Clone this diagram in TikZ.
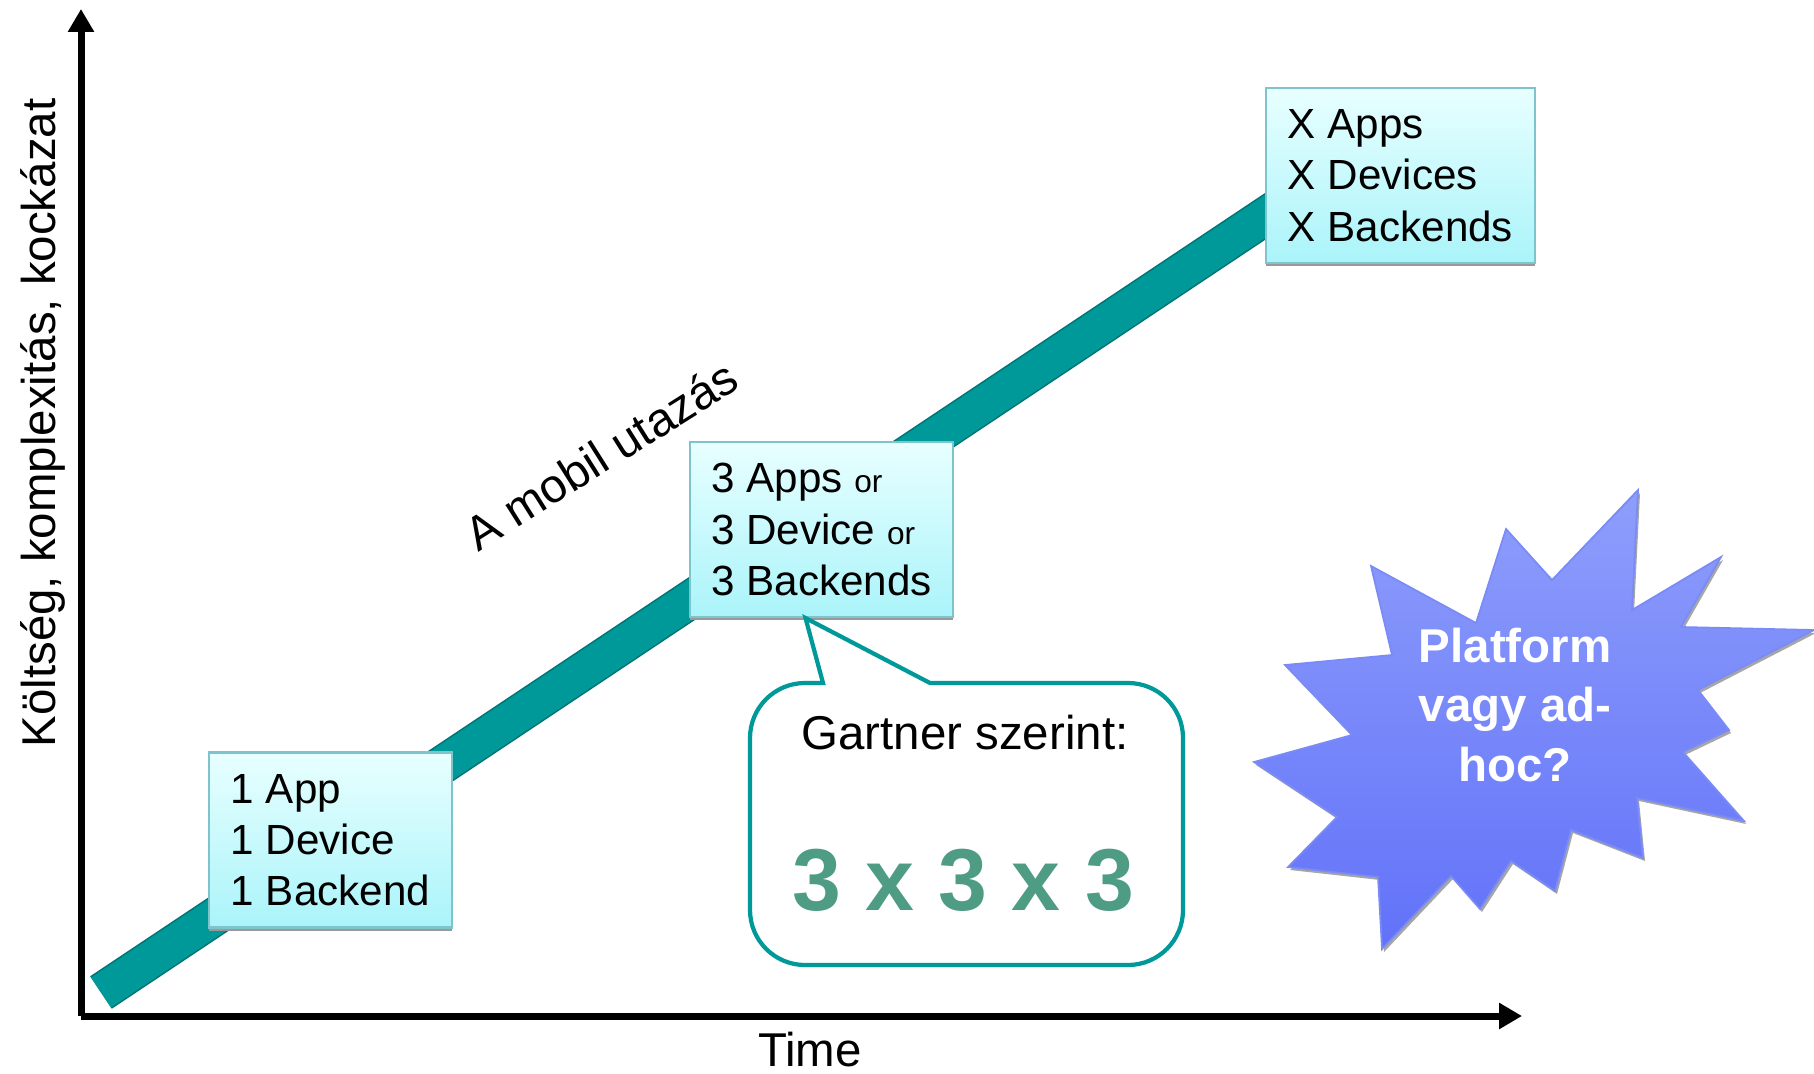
\documentclass[tikz,border=0pt]{standalone}
\usepackage{fontspec}
\setmainfont{Liberation Sans}
\usepackage{tikz}
\usetikzlibrary{positioning,arrows.meta,shadows}

\definecolor{bandteal}{HTML}{009999}
\definecolor{banddark}{HTML}{007373}
\definecolor{boxtop}{HTML}{E8FFFF}
\definecolor{boxbot}{HTML}{AAF4FA}
\definecolor{boxedge}{HTML}{7EC4CC}
\definecolor{startop}{HTML}{8E9EFB}
\definecolor{starbot}{HTML}{6272F9}
\definecolor{starline}{HTML}{7A8BF6}
\definecolor{formulagreen}{HTML}{4E9C84}

\begin{document}
\begin{tikzpicture}[
  stage/.style={rectangle, draw=boxedge, line width=0.6pt, top color=boxtop, bottom color=boxbot, align=left, minimum height=1.75cm, font=\fontsize{12}{14.6}\selectfont, drop shadow={shadow xshift=0cm, shadow yshift=-0.03cm, fill=gray!80, opacity=1}},
  axis/.style={line width=0.07cm, -{Triangle[length=0.23cm,width=0.25cm]}},
  axistext/.style={font=\fontsize{13.5}{16}\selectfont, inner sep=0pt},
  band/.style={draw=banddark, line width=0.015cm, double=bandteal, double distance=0.36cm},
  bubble/.style={draw=bandteal, line width=1.2pt, fill=white},
  burst/.style={draw=starline, line width=0.5pt, top color=startop, bottom color=starbot, drop shadow={shadow xshift=0.02cm, shadow yshift=-0.03cm, fill=gray!70, opacity=1}},
  bursttext/.style={font=\bfseries\fontsize{13.5}{17}\selectfont, text=white, align=center}
]
\useasboundingbox (0,0) rectangle (18.14,10.73);

% Band
\coordinate (bandstart) at (1.01,0.805);
\coordinate (bandend) at (13.4,9.065);
\draw[band] (bandstart) -- (bandend);

% Axes
\coordinate (origin) at (0.81,0.57);
\coordinate (ytop) at (0.81,10.64);
\coordinate (xend) at (15.22,0.57);
\draw[axis] (origin) -- (ytop);
\draw[axis] (origin) -- (xend);
\node[axistext, rotate=90, anchor=base west] (ylabel) at (0.55,3.25) {Költség, komplexitás, kockázat};
\node[axistext, anchor=base] (xlabel) at (8.10,0.07) {Time};
\node[axistext, rotate=32.2, anchor=base west] (journey) at (4.78,5.20) {A mobil utazás};

% Stages
\node[stage, minimum width=2.43cm] (one) at (3.305,2.33) {1 App\\1 Device\\1 Backend};
\node[stage, minimum width=2.63cm] (three) at (8.215,5.435) {3 Apps {\fontsize{9}{9}\selectfont or}\\3 Device {\fontsize{9}{9}\selectfont or}\\3 Backends};
\node[stage, minimum width=2.69cm] (many) at (14.005,8.975) {X Apps\\X Devices\\X Backends};

% Callout
\coordinate (tip) at ([xshift=-0.16cm]three.south);
\draw[bubble] (tip) -- (9.30,3.90) [rounded corners=0.55cm] -- (11.83,3.90) -- (11.83,1.08) -- (7.50,1.08) -- (7.50,3.90) [sharp corners] -- (8.23,3.90) -- cycle;
\node[axistext, anchor=base] (gartner) at (9.65,3.24) {Gartner szerint:};
\node[font=\bfseries\fontsize{25}{30}\selectfont, text=formulagreen, anchor=base] (formula) at (9.63,1.63) {3 x 3 x 3};

% Burst
\draw[burst] (16.38,5.83) -- (16.32,4.63) -- (17.21,5.16) -- (16.81,4.46) -- (18.14,4.43) -- (16.98,3.83) -- (17.29,3.43) -- (16.83,3.21) -- (17.44,2.52) -- (16.37,2.75) -- (16.43,2.15) -- (15.71,2.43) -- (15.55,1.82) -- (15.11,2.12) -- (14.80,1.64) -- (14.51,1.97) -- (13.82,1.24) -- (13.78,1.96) -- (12.88,2.06) -- (13.37,2.56) -- (12.54,3.11) -- (13.52,3.38) -- (12.85,4.08) -- (13.92,4.18) -- (13.71,5.07) -- (14.76,4.50) -- (15.06,5.44) -- (15.52,4.93) -- cycle;
\node[bursttext] (question) at (15.15,3.68) {Platform\\vagy ad-\\hoc?};

\end{tikzpicture}
\end{document}
